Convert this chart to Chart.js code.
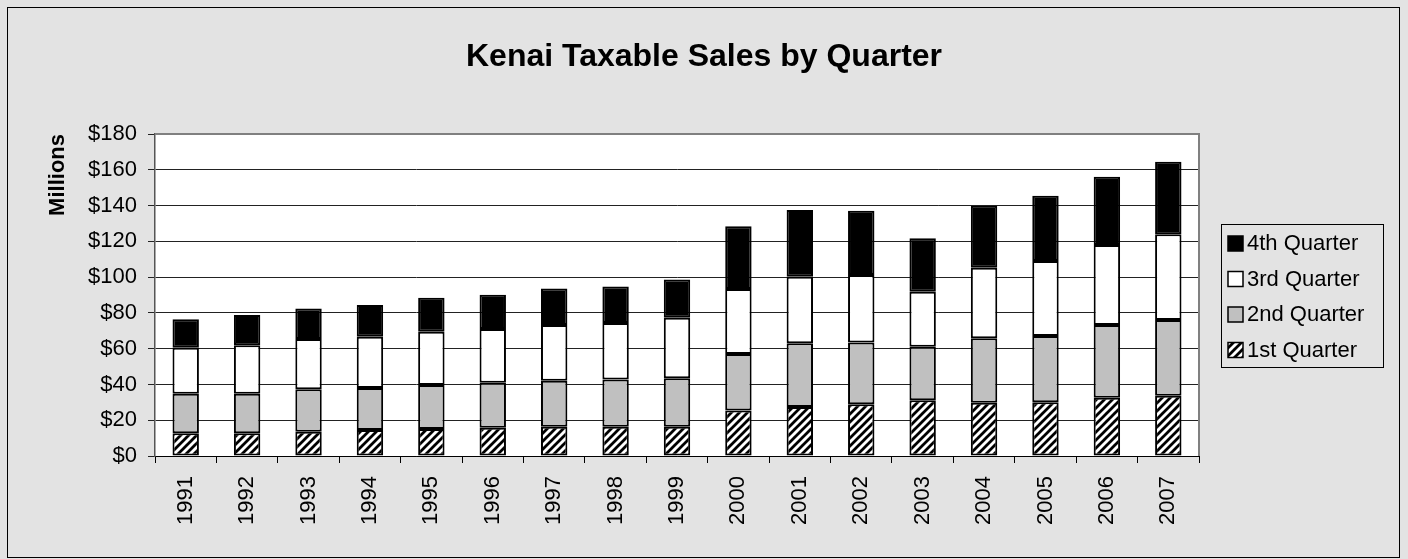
<!DOCTYPE html>
<html>
<head>
<meta charset="utf-8">
<script src="https://cdn.jsdelivr.net/npm/chart.js@4.4.1/dist/chart.umd.min.js"></script>
<style>
  html, body { margin: 0; padding: 0; background: #e3e3e3; }
  #c { display: block; }
</style>
</head>
<body>
<canvas id="c" width="1408" height="559"></canvas>
<script>
// Kenai taxable sales, millions of dollars
const years = ["1991", "1992", "1993", "1994", "1995", "1996", "1997", "1998", "1999",
               "2000", "2001", "2002", "2003", "2004", "2005", "2006", "2007"];
const q1 = [12.7, 12.7, 13.6, 14.5, 15.1, 15.8, 16.4, 16.4, 16.4, 25.5, 27.4, 28.9, 31.1, 29.8, 30.0, 32.6, 33.7];
const q2 = [22.1, 22.1, 23.7, 23.5, 24.6, 25.2, 25.7, 26.4, 27.0, 31.5, 35.6, 34.6, 30.0, 36.0, 37.1, 40.6, 42.3];
const q3 = [25.7, 27.1, 28.1, 28.7, 29.8, 30.0, 31.1, 31.5, 33.9, 36.3, 37.2, 37.7, 30.7, 39.5, 41.9, 44.7, 47.9];
const q4 = [15.9, 16.9, 17.1, 17.7, 19.0, 19.2, 20.5, 20.5, 21.3, 35.1, 37.3, 35.9, 29.9, 34.6, 36.5, 38.2, 40.6];
const seriesNames = ["1st Quarter", "2nd Quarter", "3rd Quarter", "4th Quarter"];
const yTicks = [0, 20, 40, 60, 80, 100, 120, 140, 160, 180];
const chartTitle = "Kenai Taxable Sales by Quarter";

const FONT = 'Arial, "Liberation Sans", sans-serif';
Chart.defaults.color = "#000";
Chart.defaults.font.family = FONT;

// diagonal hatch for the 1st quarter
function hatch() {
  const p = document.createElement("canvas");
  p.width = 8; p.height = 8;
  const g = p.getContext("2d");
  g.fillStyle = "#fff";
  g.fillRect(0, 0, 8, 8);
  g.strokeStyle = "#000";
  g.lineWidth = 2.8;
  g.beginPath();
  g.moveTo(-2, 10); g.lineTo(10, -2);
  g.moveTo(-6, 6); g.lineTo(6, -6);
  g.moveTo(2, 14); g.lineTo(14, 2);
  g.stroke();
  return g.createPattern(p, "repeat");
}

const ctx = document.getElementById("c").getContext("2d");
const fills = [hatch(), "#c0c0c0", "#ffffff", "#000000"];

const datasets = [q1, q2, q3, q4].map((data, i) => ({
  label: seriesNames[i],
  data,
  backgroundColor: fills[i],
  borderColor: "#000",
  borderWidth: 2,
  borderSkipped: false,
  barPercentage: 0.43,
  categoryPercentage: 1
}));

const frame = {
  id: "frame",
  beforeDraw(chart) {
    const c = chart.ctx, a = chart.chartArea;
    c.save();
    c.fillStyle = "#e3e3e3";
    c.fillRect(0, 0, chart.width, chart.height);
    c.strokeStyle = "#000";
    c.lineWidth = 1;
    c.strokeRect(7.5, 7.5, 1392, 550);
    c.fillStyle = "#fff";
    c.fillRect(a.left, a.top, a.right - a.left, a.bottom - a.top);
    // title is centred on the whole chart, not on the plot
    c.fillStyle = "#000";
    c.font = "bold 32px " + FONT;
    c.textAlign = "center";
    c.textBaseline = "alphabetic";
    c.fillText(chartTitle, 704, 66);
    c.restore();
  },
  beforeDatasetsDraw(chart) {
    const c = chart.ctx, a = chart.chartArea;
    c.save();
    c.strokeStyle = "#808080";
    c.lineWidth = 2;
    c.beginPath();
    c.moveTo(a.left, a.top);
    c.lineTo(a.right, a.top);
    c.lineTo(a.right, a.bottom);
    c.stroke();
    c.restore();
  },
  afterDraw(chart) {
    // legend box, series listed top to bottom as 4th..1st
    const c = chart.ctx;
    const x = 1221, y = 224, w = 162, h = 143;
    c.save();
    c.strokeStyle = "#000";
    c.lineWidth = 1;
    c.strokeRect(x + 0.5, y + 0.5, w, h);
    c.font = "22px " + FONT;
    c.textBaseline = "middle";
    c.textAlign = "left";
    const ds = chart.data.datasets.slice().reverse();
    ds.forEach((d, i) => {
      const cy = 243 + i * 35.5;
      c.fillStyle = d.backgroundColor;
      c.fillRect(x + 7, cy - 7, 15, 15);
      c.strokeStyle = "#000";
      c.lineWidth = 1.5;
      c.strokeRect(x + 7, cy - 7, 15, 15);
      c.fillStyle = "#000";
      c.fillText(d.label, x + 26, cy + 1);
    });
    c.restore();
  }
};

new Chart(ctx, {
  type: "bar",
  data: { labels: years, datasets },
  options: {
    responsive: false,
    animation: false,
    layout: { padding: { left: 8, right: 209, top: 134, bottom: 8 } },
    plugins: {
      legend: { display: false },
      tooltip: { enabled: false },
      title: { display: false }
    },
    scales: {
      x: {
        stacked: true,
        grid: { offset: true, drawOnChartArea: false, drawTicks: true, tickLength: 7, color: "#000" },
        border: { color: "#000", width: 1 },
        ticks: { font: { size: 22 }, minRotation: 90, maxRotation: 90, padding: 13, autoSkip: false, color: "#000" },
        afterFit(s) { s.height = 95; }
      },
      y: {
        stacked: true,
        min: 0,
        max: 180,
        afterBuildTicks(s) { s.ticks = yTicks.map(v => ({ value: v })); },
        grid: { color: "#222", lineWidth: 1, tickLength: 7 },
        border: { color: "#555", width: 1.5 },
        ticks: { font: { size: 22 }, padding: 11, color: "#000", callback: v => "$" + v },
        title: {
          display: true,
          text: "Millions",
          align: "end",
          color: "#000",
          font: { size: 22, weight: "bold" },
          padding: { top: 37, bottom: 0 }
        },
        afterFit(s) { s.width = 147; }
      }
    }
  },
  plugins: [frame]
});
</script>
</body>
</html>
